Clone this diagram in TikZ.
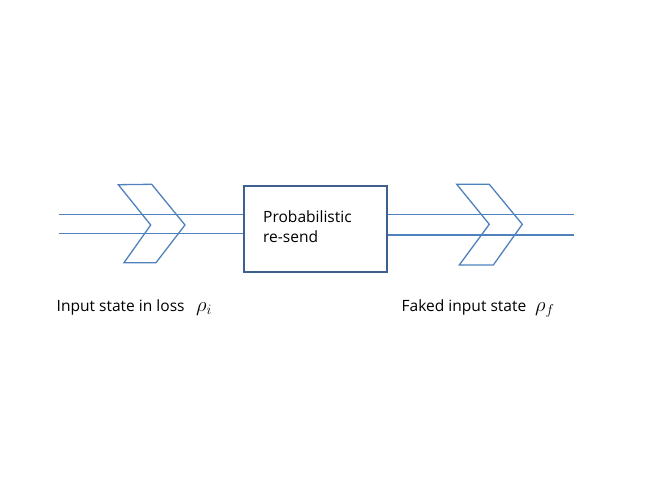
\documentclass[tikz,border=0pt]{standalone}
\usepackage{fontspec}
\setmainfont{Open Sans}
\begin{document}
\begin{tikzpicture}[x=1bp,y=-1bp,
  wire/.style={draw=lineblue,line width=1.3bp},
  chev/.style={draw=lineblue,line width=1.3bp,line join=miter},
  procbox/.style={draw=boxblue,line width=1.8bp,fill=white,minimum width=143bp,minimum height=86.5bp,inner sep=0pt},
  lbl/.style={font=\fontsize{15.6}{18}\selectfont,anchor=base west,inner sep=0pt},
  rholbl/.style={anchor=base west,inner sep=0pt,font=\fontsize{22}{24}\selectfont}]
\definecolor{lineblue}{HTML}{4F81BD}
\definecolor{boxblue}{HTML}{3F5F8E}
\useasboundingbox (0,0) rectangle (654,491);
% wires
\coordinate (l1) at (59,214.7);
\coordinate (l2) at (59,233.7);
\coordinate (r1) at (574,214.7);
\coordinate (r2) at (574,235);
\node[procbox] (box) at (315.7,229) {};
\draw[wire] (l1) -- (l1 -| box.west);
\draw[wire] (l2) -- (l2 -| box.west);
\draw[wire] (r1 -| box.east) -- (r1);
\draw[wire] (r2 -| box.east) -- (r2);
% chevrons
\draw[chev] (118.3,184.7) -- (151.7,184.3) -- (185,225) -- (156,262.7) -- (124,262.7) -- (150.7,225) -- cycle;
\draw[chev] (456.7,184.3) -- (489.3,184.3) -- (522.3,224.3) -- (493.3,265) -- (459.3,265) -- (489.3,224.3) -- cycle;
% box text
\node[lbl] (t1) at (263,223) {Probabilistic};
\node[lbl] (t2) at (263,242.7) {re-send};
% labels
\node[lbl] (in) at (56.5,311.5) {Input state in loss};
\node[rholbl] (rhoi) at (196,311.5) {$\rho_{i}$};
\node[lbl] (fk) at (401.5,311) {Faked input state};
\node[rholbl] (rhof) at (535,311) {$\rho_{f}$};
\end{tikzpicture}
\end{document}
